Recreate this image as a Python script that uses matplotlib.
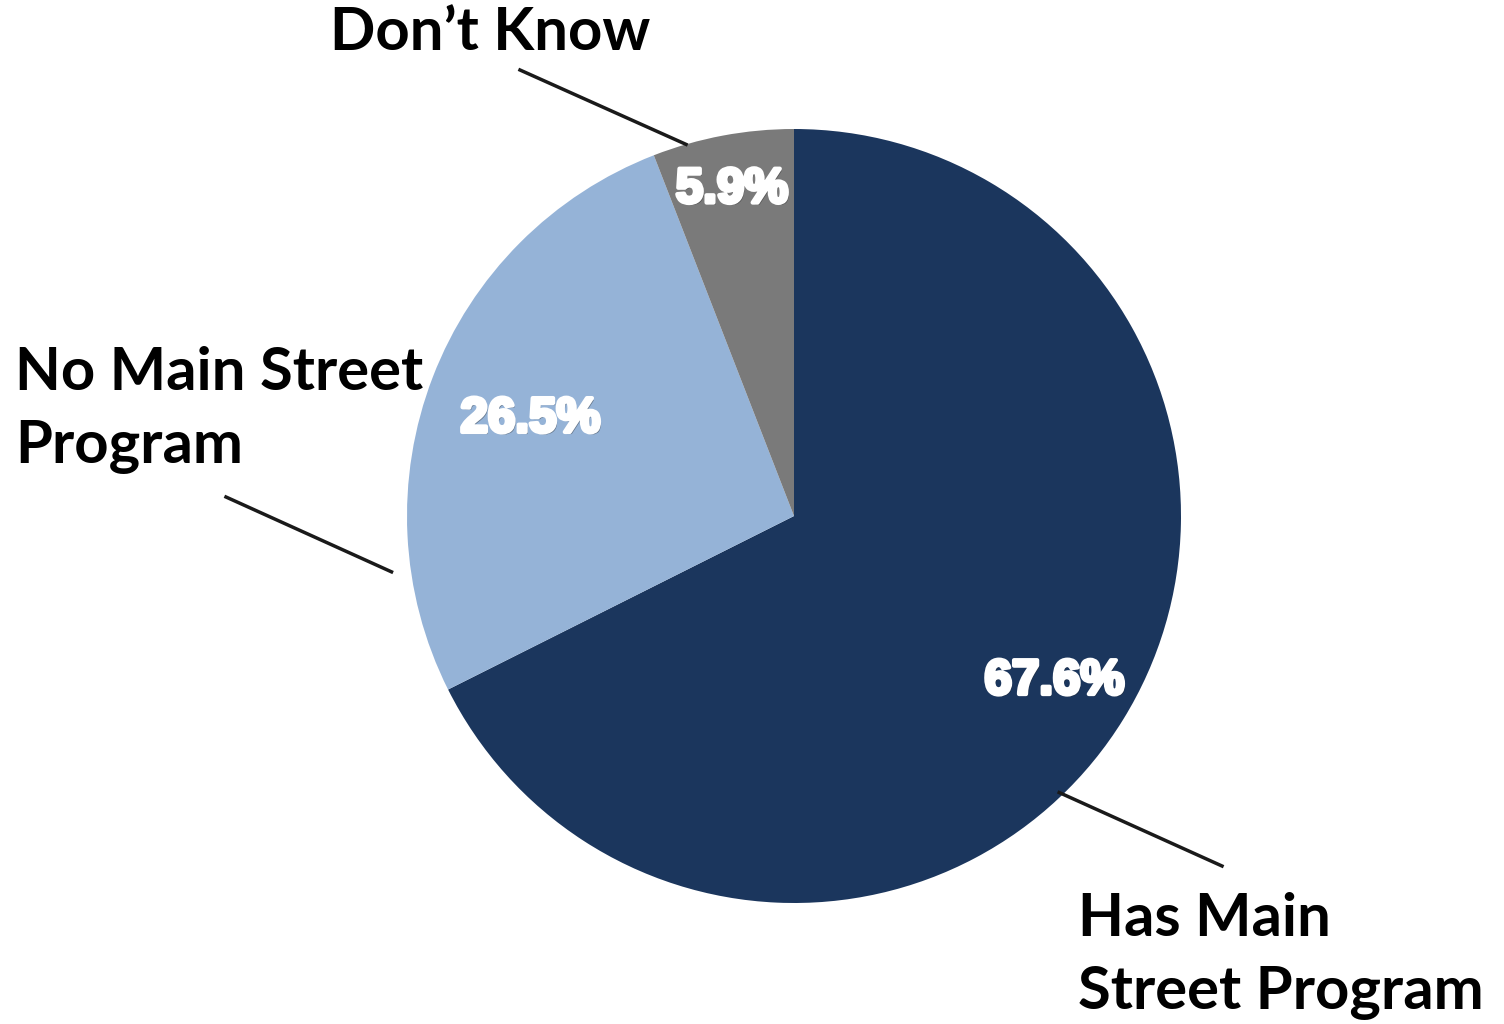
import numpy as np
import matplotlib
matplotlib.use("Agg")
import matplotlib.pyplot as plt
import matplotlib.patheffects as pe

labels = ["Has Main\nStreet Program", "No Main Street\nProgram", "Don\u2019t Know"]
values = [67.6, 26.5, 5.9]
colors = ["#1b365d", "#95b3d7", "#7a7a7a"]

W, H = 1504, 1024
fig = plt.figure(figsize=(W / 100, H / 100), dpi=100)
ax = fig.add_axes([0, 0, 1, 1])

cx, cy, r = 794, H - 516, 387
wedges, _ = ax.pie(values, colors=colors, startangle=90, counterclock=False,
                   center=(cx, cy), radius=r, frame=True,
                   wedgeprops=dict(linewidth=0))
ax.set_xlim(0, W)
ax.set_ylim(0, H)
ax.set_aspect("equal")
ax.axis("off")

# percentage labels inside the slices
pct_dist = [0.79, 0.73, 0.87]
pct_fx = [pe.withSimplePatchShadow(offset=(1.5, -1.5), shadow_rgbFace="#202020", alpha=0.4),
          pe.withStroke(linewidth=3, foreground="white")]
for w, v, d in zip(wedges, values, pct_dist):
    ang = np.deg2rad((w.theta1 + w.theta2) / 2)
    ax.text(cx + d * r * np.cos(ang), cy + d * r * np.sin(ang), f"{v}%",
            ha="center", va="center_baseline", color="white", fontsize=35.5,
            fontweight="bold", family=["Liberation Sans", "DejaVu Sans"],
            path_effects=pct_fx)

# category labels with leader lines
# (angle on the circle, radius factor, outer line end, text position)
lead = [
    (-46.2, 0.99, (1222, H - 866), (1078, H - 956)),
    (-172.1, 1.05, (226, H - 497), (15, H - 410)),
    (106.2, 1.0, (520, H - 70), (330, H - 33)),
]
for lab, (a, f, p0, tp) in zip(labels, lead):
    ang = np.deg2rad(a)
    p1 = (cx + f * r * np.cos(ang), cy + f * r * np.sin(ang))
    ax.plot([p0[0], p1[0]], [p0[1], p1[1]], color="#1a1a1a", lw=2.5)
    ax.text(tp[0], tp[1], lab, ha="left", va="center", fontsize=43,
            fontweight="bold", color="black", linespacing=1.42,
            family=["Lato", "DejaVu Sans"])

fig.savefig("out.png", dpi=100)
